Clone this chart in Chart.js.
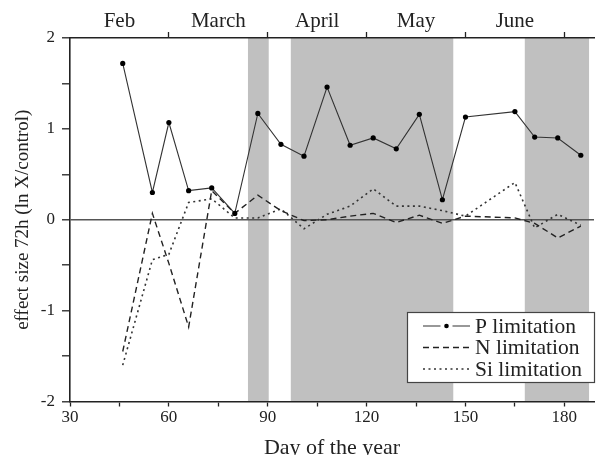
<!DOCTYPE html>
<html>
<head>
<meta charset="utf-8">
<script src="https://cdn.jsdelivr.net/npm/chart.js@4.4.1/dist/chart.umd.min.js"></script>
<style>
  html, body { margin: 0; padding: 0; background: #fff; }
  #wrap { width: 598px; height: 455px; }
</style>
</head>
<body>
<div id="wrap"><canvas id="chart" width="598" height="455"></canvas></div>
<script>
/* =========================
   DATA
========================= */
const days = [46, 55, 60, 66, 73, 80, 87, 94, 101, 108, 115, 122, 129, 136, 143, 150, 165, 171, 178, 185];
const pLimitation = [1.72, 0.30, 1.07, 0.32, 0.35, 0.07, 1.17, 0.83, 0.70, 1.46, 0.82, 0.90, 0.78, 1.16, 0.22, 1.13, 1.19, 0.91, 0.90, 0.71];
const nLimitation = [-1.45, 0.07, -0.48, -1.18, 0.32, 0.07, 0.27, 0.10, -0.01, 0.00, 0.04, 0.07, -0.03, 0.05, -0.04, 0.04, 0.02, -0.04, -0.20, -0.07];
const siLimitation = [-1.60, -0.44, -0.38, 0.19, 0.23, 0.02, 0.02, 0.12, -0.10, 0.06, 0.15, 0.34, 0.15, 0.15, 0.10, 0.04, 0.41, -0.09, 0.06, -0.06];

const seriesNames = ["P limitation", "N limitation", "Si limitation"];

// shaded periods (day of year)
const bandStart = [84, 97, 168];
const bandEnd = [90.3, 146.3, 187.5];

const xTicks = [30, 45, 60, 75, 90, 105, 120, 135, 150, 165, 180];
const xLabelTicks = [30, 60, 90, 120, 150, 180];
const yTicks = [-2, -1.5, -1, -0.5, 0, 0.5, 1, 1.5, 2];
const yLabelTicks = [-2, -1, 0, 1, 2];

const monthTicks = [45, 60, 75, 90, 105, 120, 135, 150, 165, 180];
const monthCenters = [45, 75, 105, 135, 165];
const monthLabels = ["Feb", "March", "April", "May", "June"];

/* =========================
   STYLE
========================= */
const FONT = "'Liberation Serif', 'Times New Roman', serif";
const INK = "#222";

const toPoints = vals => days.map((d, i) => ({ x: d, y: vals[i] }));

/* =========================
   PLUGINS
========================= */
const bandsPlugin = {
  id: "bands",
  beforeDraw(chart) {
    const { ctx, chartArea, scales } = chart;
    ctx.save();
    ctx.fillStyle = "#c0c0c0";
    bandStart.forEach((s, i) => {
      const x1 = scales.x.getPixelForValue(s);
      const x2 = scales.x.getPixelForValue(bandEnd[i]);
      ctx.fillRect(x1, chartArea.top, x2 - x1, chartArea.bottom - chartArea.top);
    });
    ctx.restore();
  }
};

const legendPlugin = {
  id: "boxLegend",
  afterDraw(chart) {
    const ctx = chart.ctx;
    const bx = 407, by = 312, bw = 187, bh = 70;
    ctx.save();
    ctx.fillStyle = "#fff";
    ctx.fillRect(bx, by, bw, bh);
    ctx.strokeStyle = "#444";
    ctx.lineWidth = 1.2;
    ctx.strokeRect(bx + 0.5, by + 0.5, bw, bh);

    chart.data.datasets.forEach((ds, i) => {
      const y = by + 14 + i * 21.5;
      const x1 = bx + 16, x2 = bx + 63;
      ctx.strokeStyle = ds.borderColor;
      ctx.lineWidth = ds.borderWidth;
      ctx.setLineDash(ds.borderDash || []);
      ctx.beginPath();
      if (i === 0) {
        const mid = (x1 + x2) / 2;
        ctx.moveTo(x1, y); ctx.lineTo(mid - 6, y);
        ctx.moveTo(mid + 6, y); ctx.lineTo(x2, y);
        ctx.stroke();
        ctx.setLineDash([]);
        ctx.fillStyle = "#000";
        ctx.beginPath();
        ctx.arc(mid, y, 2.3, 0, Math.PI * 2);
        ctx.fill();
      } else {
        ctx.moveTo(x1, y); ctx.lineTo(x2, y);
        ctx.stroke();
      }
      ctx.setLineDash([]);
      ctx.fillStyle = INK;
      ctx.font = "21.5px " + FONT;
      ctx.textBaseline = "middle";
      ctx.textAlign = "left";
      ctx.fillText(ds.label, bx + 68, y + 1);
    });
    ctx.restore();
  }
};

/* =========================
   CHART
========================= */
new Chart(document.getElementById("chart"), {
  type: "line",
  data: {
    datasets: [
      {
        label: seriesNames[0],
        data: toPoints(pLimitation),
        borderColor: "#333",
        borderWidth: 1.1,
        pointRadius: 2.6,
        pointBackgroundColor: "#000",
        pointBorderWidth: 0,
        tension: 0
      },
      {
        label: seriesNames[1],
        data: toPoints(nLimitation),
        borderColor: "#222",
        borderWidth: 1.4,
        borderDash: [6, 4],
        pointRadius: 0,
        tension: 0
      },
      {
        label: seriesNames[2],
        data: toPoints(siLimitation),
        borderColor: "#333",
        borderWidth: 1.6,
        borderDash: [2, 3.5],
        pointRadius: 0,
        tension: 0
      }
    ]
  },
  options: {
    responsive: false,
    animation: false,
    devicePixelRatio: 1,
    layout: { padding: 0 },
    plugins: {
      legend: { display: false },
      tooltip: { enabled: false }
    },
    scales: {
      x: {
        type: "linear",
        position: "bottom",
        min: 30,
        max: 189,
        afterBuildTicks: s => { s.ticks = xTicks.map(v => ({ value: v })); },
        afterFit: s => { s.height = 53.5; },
        ticks: {
          autoSkip: false,
          maxRotation: 0,
          padding: 1,
          color: INK,
          font: { family: FONT, size: 17, lineHeight: 1.2 },
          callback: v => xLabelTicks.includes(v) ? String(v) : ""
        },
        grid: { drawOnChartArea: false, drawTicks: true, tickLength: 5, tickColor: INK, tickWidth: 1.3 },
        border: { display: true, color: INK, width: 1.6 },
        title: {
          display: true,
          text: "Day of the year",
          color: INK,
          font: { family: FONT, size: 22, lineHeight: 0.62 },
          padding: 0
        }
      },
      x2: {
        type: "linear",
        position: "top",
        min: 30,
        max: 189,
        afterBuildTicks: s => { s.ticks = monthTicks.map(v => ({ value: v })); },
        afterFit: s => { s.height = 38; },
        ticks: {
          autoSkip: false,
          maxRotation: 0,
          padding: 0,
          color: INK,
          font: { family: FONT, size: 21, lineHeight: 1 },
          callback: v => {
            const i = monthCenters.indexOf(v);
            return i >= 0 ? monthLabels[i] : "";
          }
        },
        grid: {
          drawOnChartArea: false,
          drawTicks: true,
          tickLength: 6,
          tickWidth: 1.3,
          tickColor: c => (c.tick && monthCenters.includes(c.tick.value)) ? "rgba(0,0,0,0)" : INK
        },
        border: { display: true, color: INK, width: 1.6 }
      },
      y: {
        type: "linear",
        position: "left",
        min: -2,
        max: 2,
        afterBuildTicks: s => { s.ticks = yTicks.map(v => ({ value: v })); },
        afterFit: s => { s.width = 70; },
        ticks: {
          padding: 7,
          color: INK,
          font: { family: FONT, size: 17 },
          callback: v => yLabelTicks.includes(v) ? String(v) : ""
        },
        grid: {
          drawOnChartArea: true,
          drawTicks: true,
          tickLength: 8,
          tickWidth: 1.3,
          tickColor: INK,
          lineWidth: 1.6,
          color: c => (c.tick && c.tick.value === 0) ? "#555" : "rgba(0,0,0,0)"
        },
        border: { display: true, color: INK, width: 1.6 },
        title: {
          display: true,
          text: "effect size 72h (ln X/control)",
          color: INK,
          font: { family: FONT, size: 19, lineHeight: 1.2 },
          padding: { top: 12, bottom: 0 }
        }
      }
    }
  },
  plugins: [bandsPlugin, legendPlugin]
});
</script>
</body>
</html>
